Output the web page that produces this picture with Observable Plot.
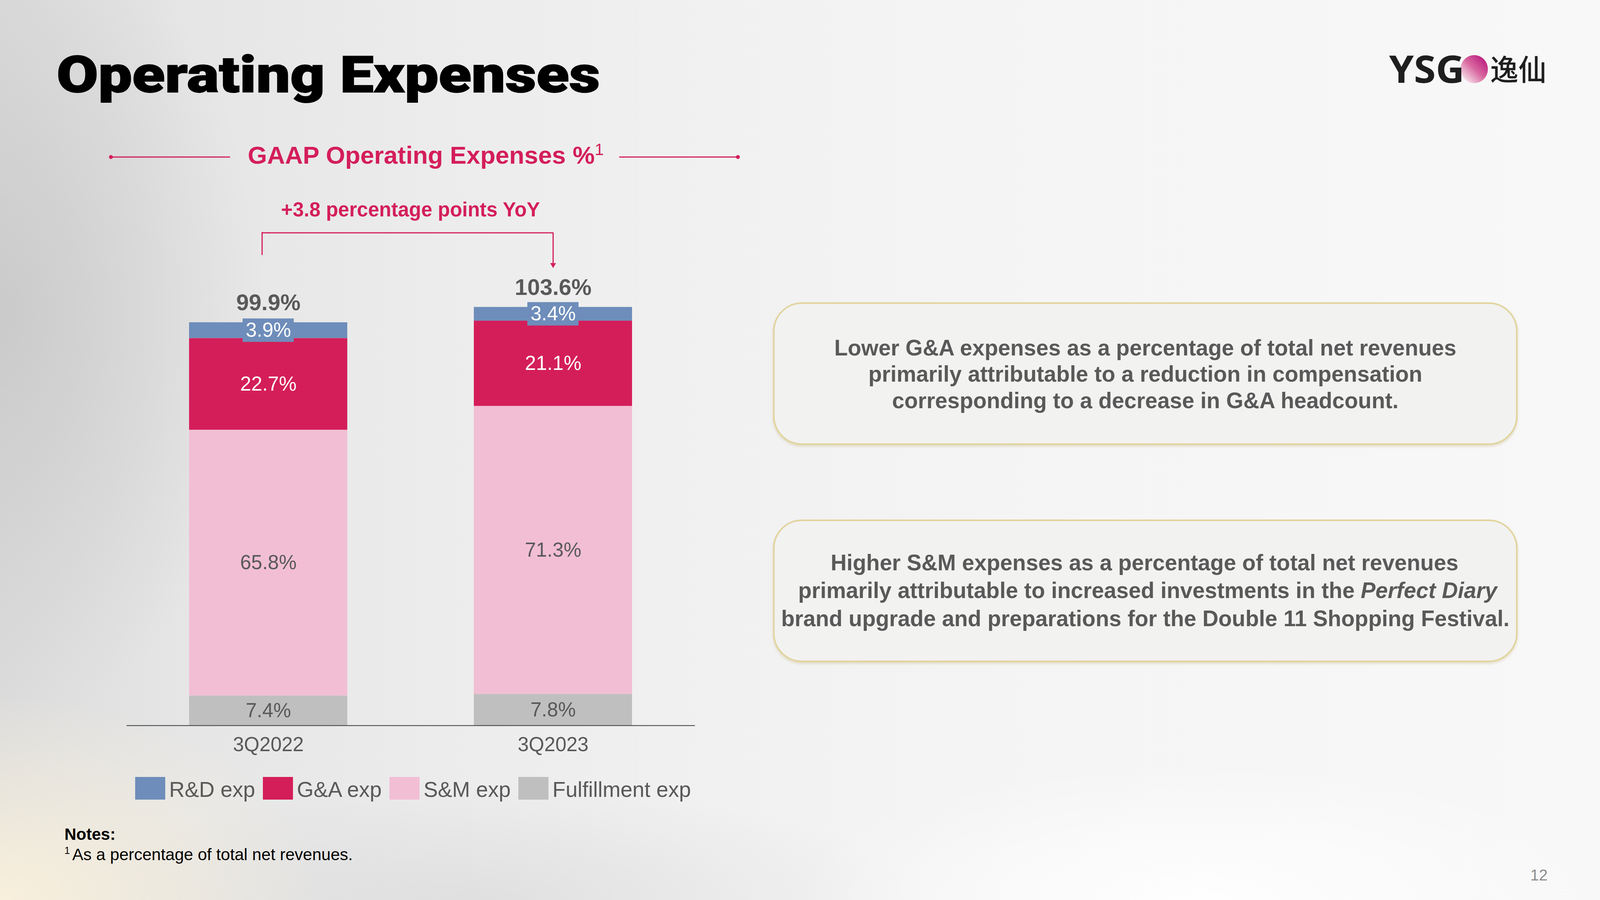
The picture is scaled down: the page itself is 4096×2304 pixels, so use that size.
<!DOCTYPE html>
<html><head><meta charset="utf-8">
<script src="https://cdn.jsdelivr.net/npm/d3@7"></script>
<script src="https://cdn.jsdelivr.net/npm/@observablehq/plot@0.6"></script>
<style>
html,body{margin:0;padding:0;}
body{width:4096px;height:2304px;position:relative;overflow:hidden;font-family:"Liberation Sans",Arial,sans-serif;
background:
 radial-gradient(ellipse 1100px 700px at 0% 100%, rgba(250,241,220,0.95), rgba(250,241,220,0) 75%),
 radial-gradient(ellipse 1600px 420px at 30% 100%, rgba(200,200,200,0.35), rgba(200,200,200,0) 70%),
 radial-gradient(ellipse 1500px 500px at 75% 100%, rgba(255,255,255,0.9), rgba(255,255,255,0) 70%),
 radial-gradient(ellipse 900px 1400px at 0% 35%, rgba(195,195,195,0.7), rgba(195,195,195,0) 75%),
 linear-gradient(90deg,#dcdcdc 0%,#e6e6e6 12%,#ececec 28%,#f1f1f1 45%,#f5f5f5 65%,#f8f8f8 100%);}
.abs{position:absolute;}
#chart{left:0;top:0;}
#legend{left:346px;top:1989px;display:flex;align-items:flex-start;height:58px;}
#legend .sw{width:77px;height:58px;margin-right:10px;flex:none;}
#legend .lb{font-size:55px;line-height:58px;padding-top:3px;color:#595959;margin-right:20px;white-space:nowrap;}
</style></head>
<body>
<svg class="abs" id="deco" style="left:0;top:0" width="4096" height="2304" font-family="'Liberation Sans',Arial,sans-serif">
  <defs>
    <linearGradient id="logoGrad" x1="0.95" y1="0.1" x2="0.15" y2="0.95">
      <stop offset="0" stop-color="#B8157C"/>
      <stop offset="0.5" stop-color="#D9689F"/>
      <stop offset="1" stop-color="#F7EAF0"/>
    </linearGradient>
    <filter id="shadow" x="-5%" y="-10%" width="110%" height="125%">
      <feDropShadow dx="0" dy="4" stdDeviation="3" flood-color="#C8B98A" flood-opacity="0.45"/>
    </filter>
  </defs>
  <text x="145" y="236" font-size="130" font-weight="900" textLength="1391" lengthAdjust="spacingAndGlyphs" font-family="Roboto,'Liberation Sans',sans-serif" fill="#000" stroke="#000" stroke-width="2">Operating Expenses</text>

  <ellipse cx="3774" cy="177" rx="35" ry="36" fill="url(#logoGrad)"/>
  <text x="3556" y="212" font-size="96" font-weight="bold" textLength="193" lengthAdjust="spacingAndGlyphs" font-family="'Open Sans','Liberation Sans',sans-serif" fill="#1e1e1e">YSG</text>
  <text x="3815" y="206" font-size="75" font-weight="500" textLength="144" lengthAdjust="spacingAndGlyphs" font-family="'Noto Sans CJK SC',sans-serif" fill="#1e1e1e">逸仙</text>

  <line x1="284" y1="402" x2="589" y2="402" stroke="#D41E5A" stroke-width="3"/>
  <circle cx="284" cy="402" r="5" fill="#D41E5A"/>
  <line x1="1585" y1="402" x2="1889" y2="402" stroke="#D41E5A" stroke-width="3"/>
  <circle cx="1889" cy="402" r="5" fill="#D41E5A"/>
  <text x="1090" y="419" text-anchor="middle" font-size="63.5" font-weight="bold" fill="#D41E5A">GAAP Operating Expenses %<tspan font-size="42" dy="-22" font-weight="normal">1</tspan></text>
  <text x="1051" y="554" text-anchor="middle" font-size="51" font-weight="bold" fill="#D41E5A">+3.8 percentage points YoY</text>

  <rect x="1981" y="776" width="1902" height="361" rx="72" ry="72" fill="#F3F3F3" fill-opacity="0.92" stroke="#E2D49E" stroke-width="4" filter="url(#shadow)"/>
  <g font-size="56.6" font-weight="bold" fill="#595959" text-anchor="middle">
    <text x="2932" y="910">Lower G&amp;A expenses as a percentage of total net revenues</text>
    <text x="2932" y="977">primarily attributable to a reduction in compensation</text>
    <text x="2932" y="1045">corresponding to a decrease in G&amp;A headcount.</text>
  </g>
  <rect x="1981" y="1332" width="1902" height="361" rx="72" ry="72" fill="#F3F3F3" fill-opacity="0.92" stroke="#E2D49E" stroke-width="4" filter="url(#shadow)"/>
  <g font-size="56.6" font-weight="bold" fill="#595959" text-anchor="middle">
    <text x="2930" y="1460">Higher S&amp;M expenses as a percentage of total net revenues</text>
    <text x="2938" y="1531">primarily attributable to increased investments in the <tspan font-style="italic">Perfect Diary</tspan></text>
    <text x="2932" y="1603">brand upgrade and preparations for the Double 11 Shopping Festival.</text>
  </g>

  <text x="165" y="2150" font-size="42" font-weight="bold" fill="#000">Notes:</text>
  <text x="165" y="2202" font-size="42.5" fill="#000"><tspan font-size="25" dy="-16">1</tspan><tspan dx="6" dy="16">As a percentage of total net revenues.</tspan></text>
  <text x="3962" y="2254" text-anchor="end" font-size="40" fill="#8C8C8C">12</text>
</svg>
<div id="chart" class="abs"></div>
<div id="legend" class="abs"></div>
<script>
const quarters = ["3Q2022", "3Q2023"];
const categories = ["Fulfillment exp", "S&M exp", "G&A exp", "R&D exp"];
const legendOrder = ["R&D exp", "G&A exp", "S&M exp", "Fulfillment exp"];
const fulfillment = [7.4, 7.8];
const salesMarketing = [65.8, 71.3];
const generalAdmin = [22.7, 21.1];
const researchDev = [3.9, 3.4];
const totals = [99.9, 103.6];
const colors = ["#BFBFBF", "#F2BED3", "#D41E5A", "#6E8DBA"];
// bracket annotation levels (in % units)
const bracketLevels = {leftEnd: 116.6, top: 122.0, rightEnd: 114.1};

const series = [fulfillment, salesMarketing, generalAdmin, researchDev];
const rows = [];
quarters.forEach((q, i) => {
  let base = 0;
  categories.forEach((c, j) => {
    const v = series[j][i];
    rows.push({quarter: q, category: c, value: v, y1: base, y2: base + v, mid: base + v / 2});
    base += v;
  });
});
const totalRows = quarters.map((q, i) => ({quarter: q, total: totals[i]}));
const fmt = v => v.toFixed(1) + "%";
const light = new Set(["R&D exp", "G&A exp"]);
const bracket = [
  {quarter: quarters[0], y: bracketLevels.top},
  {quarter: quarters[1], y: bracketLevels.top},
  {quarter: quarters[1], y: bracketLevels.rightEnd}
];
const red = "#D41E5A";

const chart = Plot.plot({
  width: 1900, height: 1960,
  marginLeft: 324, marginRight: 121, marginTop: 306, marginBottom: 103,
  style: {background: "transparent", fontFamily: "'Liberation Sans', Arial, sans-serif", overflow: "visible"},
  x: {domain: quarters, paddingInner: 0.4444, paddingOuter: 0.22, label: null, axis: null},
  y: {domain: [0, 150], axis: null},
  color: {domain: categories, range: colors},
  marks: [
    Plot.barY(rows, {x: "quarter", y1: "y1", y2: "y2", fill: "category"}),
    Plot.ruleY([0], {stroke: "#3a3a3a", strokeWidth: 2}),
    Plot.barY(rows.filter(d => d.category === "R&D exp"), {x: "quarter", y1: d => d.mid - 2.9, y2: d => d.mid + 2.9, fill: colors[3], insetLeft: 137, insetRight: 137}),
    Plot.text(rows.filter(d => light.has(d.category)), {x: "quarter", y: "mid", text: d => fmt(d.value), fill: "white", fontSize: 51}),
    Plot.text(rows.filter(d => !light.has(d.category)), {x: "quarter", y: "mid", text: d => fmt(d.value), fill: "#595959", fontSize: 51}),
    Plot.text(totalRows, {x: "quarter", y: "total", text: d => fmt(d.total), lineAnchor: "bottom", dy: -31, fontSize: 58, fontWeight: "bold", fill: "#595959"}),
    Plot.ruleX([{quarter: quarters[0]}], {x: "quarter", y1: bracketLevels.leftEnd, y2: bracketLevels.top, dx: -16, stroke: red, strokeWidth: 3, strokeLinecap: "square"}),
    Plot.tickY([{quarter: quarters[0], y: bracketLevels.top}], {x: "quarter", y: "y", insetLeft: 186, insetRight: 200, stroke: red, strokeWidth: 3}),
    Plot.line(bracket, {x: "quarter", y: "y", stroke: red, strokeWidth: 3}),
    Plot.dot([bracket[2]], {x: "quarter", y: "y", symbol: "triangle", rotate: 180, r: 5.5, fill: red, stroke: null}),
    Plot.axisX({tickSize: 0, tickPadding: 29, fontSize: 51, color: "#595959", label: null})
  ]
});
document.getElementById("chart").appendChild(chart);

const legend = document.getElementById("legend");
legendOrder.forEach(c => {
  const sw = document.createElement("div");
  sw.className = "sw";
  sw.style.background = colors[categories.indexOf(c)];
  const lb = document.createElement("div");
  lb.className = "lb";
  lb.textContent = c;
  legend.appendChild(sw);
  legend.appendChild(lb);
});
</script>
</body></html>
